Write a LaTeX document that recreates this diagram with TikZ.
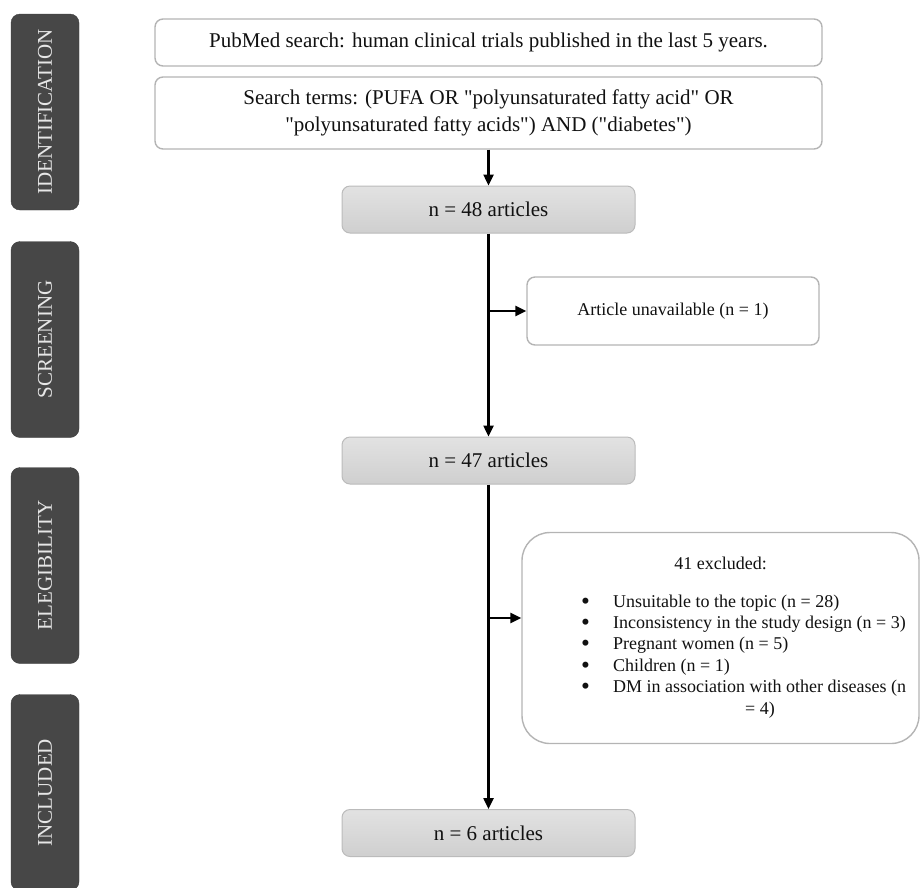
\documentclass[tikz,border=0pt]{standalone}
\usepackage{fontspec}
\usepackage{graphicx}
\setmainfont{Liberation Serif}[Ligatures=TeXOff]
\usetikzlibrary{arrows.meta,calc}
\definecolor{labfill}{HTML}{474747}
\definecolor{labtext}{HTML}{E6E6E6}
\definecolor{boxline}{HTML}{B4B4B4}
\definecolor{graytop}{HTML}{E2E2E2}
\definecolor{graybot}{HTML}{CFCFCF}
\definecolor{inktext}{HTML}{111111}
\newcommand{\bigbul}{\raisebox{-2pt}{\scalebox{1.4}{\textbullet}}}
\tikzset{
 sidelab/.style={draw=labfill!85!black, fill=labfill, rounded corners=9pt, rotate=90, minimum width=196pt, minimum height=68pt, text=labtext, font=\fontsize{21}{24}\selectfont, inner sep=0pt},
 whitebox/.style={draw=boxline, line width=1.4pt, fill=white, rounded corners=8pt, align=center, inner sep=0pt, minimum width=667pt, text=inktext, font=\fontsize{21}{26.5}\selectfont},
 graybox/.style={draw=boxline!90, line width=1pt, top color=graytop, bottom color=graybot, rounded corners=8pt, inner sep=0pt, minimum width=293pt, minimum height=47pt, text=inktext, font=\fontsize{21}{25}\selectfont},
 sidebox/.style={draw=boxline, line width=1.4pt, fill=white, inner sep=0pt, text=inktext, font=\fontsize{18}{21.4}\selectfont},
 sidetext/.style={inner sep=0pt, text=inktext, font=\fontsize{18}{21.4}\selectfont},
 flow/.style={line width=2.4pt, -{Triangle[length=11pt,width=10pt]}},
}
\begin{document}
\begin{tikzpicture}[x=1pt,y=-1pt]
\useasboundingbox (0,0) rectangle (920,887);
% stage labels
\node[sidelab] (idl) at (45,112) {IDENTIFICATION};
\node[sidelab] (scl) at (45,339.5) {SCREENING};
\node[sidelab] (ell) at (45,565.5) {ELEGIBILITY};
\node[sidelab] (inl) at (45,792.5) {INCLUDED};
% main boxes
\node[whitebox, minimum height=47pt] (b1) at (488.5,42.5) {PubMed search: human clinical trials published in the last 5 years.};
\node[whitebox, minimum height=72pt] (b2) at (488.5,113) {Search terms: (PUFA OR "polyunsaturated fatty acid" OR\\ "polyunsaturated fatty acids") AND ("diabetes")};
\node[graybox] (n48) at (488.5,209.5) {n = 48 articles};
\node[graybox] (n47) at (488.5,460.5) {n = 47 articles};
\node[graybox] (n6) at (488.5,833) {n = 6 articles};
% side boxes
\node[sidebox, rounded corners=8pt, minimum width=292pt, minimum height=68pt] (art) at (673,311) {Article unavailable (n = 1)};
\node[sidebox, rounded corners=28pt, minimum width=397pt, minimum height=211pt] (exc) at (720.5,638) {};
\node[sidetext, anchor=base] (exct) at (720.5,569) {41 excluded:};
\node[sidetext, anchor=north west] (excl) at (581,592) {%
\begin{tabular}{@{}p{32pt}@{}l@{}}
\bigbul & Unsuitable to the topic (n = 28)\\
\bigbul & Inconsistency in the study design (n = 3)\\
\bigbul & Pregnant women (n = 5)\\
\bigbul & Children (n = 1)\\
\bigbul & DM in association with other diseases (n\\
 & \hspace{132pt}= 4)
\end{tabular}};
% connectors
\coordinate (j1) at (n48.south |- art.west);
\coordinate (j2) at (488.5,618);
\draw[flow] (b2) -- (n48);
\draw[flow] (n48) -- (n47);
\draw[flow] (j1) -- (art.west);
\draw[flow] (n47) -- (n6);
\draw[flow] (j2) -- (j2 -| exc.west);
\end{tikzpicture}
\end{document}
